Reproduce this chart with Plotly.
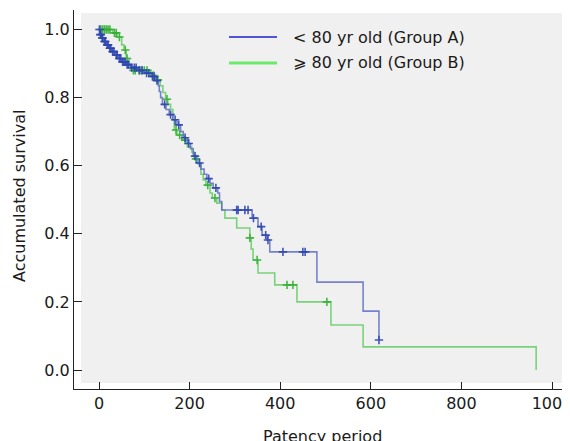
import plotly.graph_objects as go

# ---------------- data ----------------
# Group A (< 80 yr): step times and survival after each step
a_times = [0, 2, 5, 10, 16, 22, 28, 35, 42, 50, 60, 70, 85, 100, 115, 125, 131, 133, 136,
           140, 148, 155, 163, 172, 180, 186, 195, 202, 208, 216, 225, 232, 238, 245, 252,
           262, 266, 271, 338, 351, 360, 371, 377, 481, 583, 618]
a_surv = [1.0, 0.985, 0.975, 0.965, 0.955, 0.945, 0.935, 0.925, 0.915, 0.905, 0.897, 0.888,
          0.880, 0.872, 0.862, 0.850, 0.835, 0.818, 0.800, 0.780, 0.765, 0.750, 0.735, 0.720,
          0.700, 0.682, 0.665, 0.650, 0.628, 0.608, 0.590, 0.575, 0.562, 0.548, 0.535, 0.520,
          0.495, 0.470, 0.446, 0.421, 0.396, 0.382, 0.347, 0.258, 0.173, 0.088]
a_censor = [1, 3, 4, 7, 8, 12, 14, 18, 20, 24, 26, 30, 33, 38, 40, 45, 48, 52, 55, 58, 62, 65,
            72, 78, 82, 90, 95, 105, 110, 118, 122, 128, 145, 158, 168, 176, 190, 198, 212,
            222, 242, 258, 304, 307, 322, 329, 341, 358, 368, 373, 406, 450, 455, 618]

# Group B (>= 80 yr)
b_times = [0, 30, 40, 50, 55, 60, 66, 72, 115, 125, 135, 141, 147, 152, 158, 163, 166, 172,
           183, 195, 205, 210, 219, 225, 230, 236, 245, 250, 260, 271, 278, 304, 333, 336,
           340, 351, 388, 437, 512, 583, 965]
b_surv = [1.0, 0.99, 0.978, 0.955, 0.94, 0.915, 0.895, 0.88, 0.865, 0.852, 0.835, 0.815,
          0.795, 0.780, 0.765, 0.735, 0.705, 0.690, 0.675, 0.655, 0.640, 0.620, 0.605, 0.575,
          0.558, 0.543, 0.520, 0.505, 0.490, 0.470, 0.446, 0.417, 0.388, 0.355, 0.323, 0.285,
          0.250, 0.200, 0.132, 0.068, 0.0]
b_censor = [4, 8, 12, 16, 20, 24, 34, 38, 45, 58, 62, 76, 80, 88, 95, 100, 106, 120, 130,
            150, 170, 178, 190, 214, 240, 256, 333, 349, 415, 428, 503]

x_ticks = [0, 200, 400, 600, 800, 1000]
y_ticks = [0.0, 0.2, 0.4, 0.6, 0.8, 1.0]
label_a = "< 80 yr old (Group A)"
label_b = "⩾ 80 yr old (Group B)"


def surv_at(times, surv, t):
    s = surv[0]
    for ti, si in zip(times, surv):
        if ti <= t:
            s = si
        else:
            break
    return s


FONT = "DejaVu Sans"
OFF = 8                      # page body margin of the html page
W, H = 570 - OFF, 441 - OFF
L, R, T, B = 74, 570, 10, 389  # plot area in screen px


def px(x):
    return (x - L) / (R - L)


def py(y):
    return (B - y) / (B - T)


fig = go.Figure()

# Group B (green)
fig.add_trace(go.Scatter(x=b_times, y=b_surv, mode="lines", line_shape="hv",
                         line=dict(color="rgba(100,205,100,0.85)", width=1.6),
                         showlegend=False, hoverinfo="skip"))
fig.add_trace(go.Scatter(x=b_censor, y=[surv_at(b_times, b_surv, t) for t in b_censor],
                         mode="markers",
                         marker=dict(symbol="cross-thin", size=6,
                                     line=dict(color="rgba(50,175,50,0.9)", width=1.6)),
                         showlegend=False, hoverinfo="skip"))

# Group A (blue)
fig.add_trace(go.Scatter(x=a_times, y=a_surv, mode="lines", line_shape="hv",
                         line=dict(color="rgba(95,110,195,0.85)", width=1.6),
                         showlegend=False, hoverinfo="skip"))
fig.add_trace(go.Scatter(x=a_censor, y=[surv_at(a_times, a_surv, t) for t in a_censor],
                         mode="markers",
                         marker=dict(symbol="cross-thin", size=6,
                                     line=dict(color="rgba(45,70,175,0.9)", width=1.6)),
                         showlegend=False, hoverinfo="skip"))

shapes = [
    # gray panel
    dict(type="rect", xref="paper", yref="paper", x0=px(81), x1=1.01, y0=py(383), y1=py(13),
         fillcolor="#f0f0f0", line=dict(width=0), layer="below"),
    # legend lines
    dict(type="line", xref="paper", yref="paper", x0=px(229), x1=px(277), y0=py(37), y1=py(37),
         line=dict(color="#1f1fcc", width=1.5)),
    dict(type="line", xref="paper", yref="paper", x0=px(229), x1=px(277), y0=py(63), y1=py(63),
         line=dict(color="#6cea6c", width=3)),
]

annotations = [
    dict(text=label_a, xref="paper", yref="paper", x=px(291), y=py(37), xanchor="left",
         yanchor="middle", showarrow=False, font=dict(family=FONT, size=16, color="#1a1a1a")),
    dict(text=label_b, xref="paper", yref="paper", x=px(291), y=py(63), xanchor="left",
         yanchor="middle", showarrow=False, font=dict(family=FONT, size=16, color="#1a1a1a")),
    dict(text="Patency period", xref="paper", yref="paper", x=px(322), y=py(436),
         xanchor="center", yanchor="middle", showarrow=False,
         font=dict(family=FONT, size=16, color="#1a1a1a")),
    dict(text="Accumulated survival", xref="paper", yref="paper", x=px(19), y=py(196),
         xanchor="center", yanchor="middle", textangle=-90, showarrow=False,
         font=dict(family=FONT, size=16, color="#1a1a1a")),
]

fig.update_layout(
    width=W, height=H,
    margin=dict(l=L - OFF, r=0, t=T - OFF, b=H - (B - OFF), pad=0),
    paper_bgcolor="white", plot_bgcolor="white",
    font=dict(family=FONT, size=16, color="#1a1a1a"),
    shapes=shapes, annotations=annotations, showlegend=False,
    xaxis=dict(range=[-55.2, 1039.7], tickvals=x_ticks, ticks="inside", ticklen=7,
               tickcolor="#222", showline=True, linecolor="#222", linewidth=1,
               showgrid=False, zeroline=False, tickfont=dict(size=16), automargin=False,
               ticklabeloverflow="allow"),
    yaxis=dict(range=[-0.0558, 1.0573], tickvals=y_ticks, tickformat=".1f", ticks="inside",
               ticklen=8, tickcolor="#222", showline=True, linecolor="#222", linewidth=1,
               showgrid=False, zeroline=False, tickfont=dict(size=16), automargin=False,
               ticklabeloverflow="allow"),
)

fig.write_html("out.html")
